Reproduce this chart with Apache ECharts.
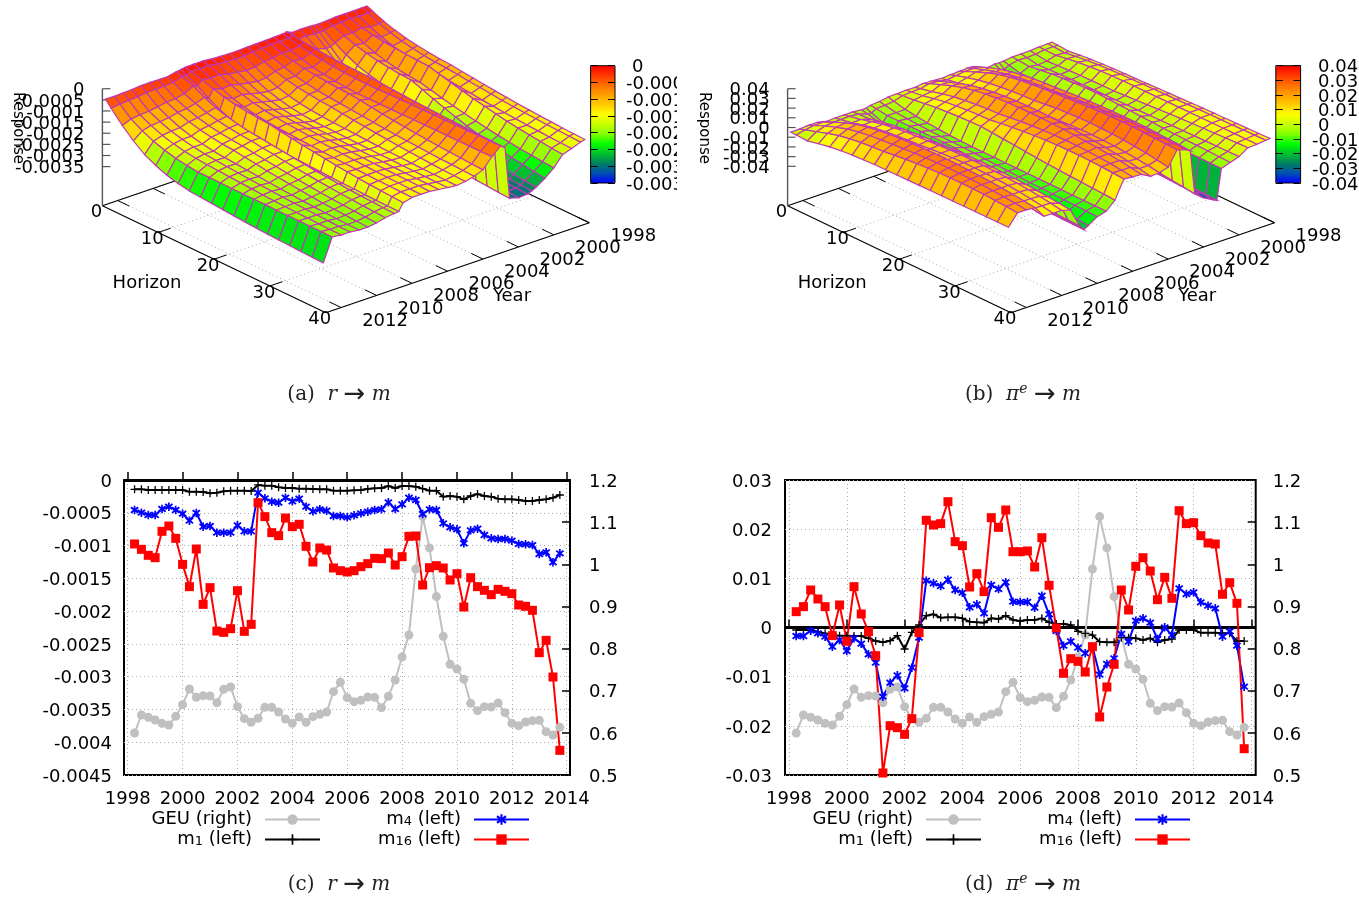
<!DOCTYPE html>
<html><head><meta charset="utf-8">
<style>html,body{margin:0;padding:0;background:#fff}#c{width:1359px;height:900px}</style>
<script src="https://cdn.jsdelivr.net/npm/echarts@6/dist/echarts.min.js"></script>
</head><body><div id="c"></div>
<script>
const quarters=[1998.25,1998.5,1998.75,1999,1999.25,1999.5,1999.75,2000,2000.25,2000.5,2000.75,2001,2001.25,2001.5,2001.75,2002,2002.25,2002.5,2002.75,2003,2003.25,2003.5,2003.75,2004,2004.25,2004.5,2004.75,2005,2005.25,2005.5,2005.75,2006,2006.25,2006.5,2006.75,2007,2007.25,2007.5,2007.75,2008,2008.25,2008.5,2008.75,2009,2009.25,2009.5,2009.75,2010,2010.25,2010.5,2010.75,2011,2011.25,2011.5,2011.75,2012,2012.25,2012.5,2012.75,2013,2013.25,2013.5,2013.75];
const xTicks=[1998,2000,2002,2004,2006,2008,2010,2012,2014];
const geu=[.5997,.6424,.6369,.6305,.6226,.6187,.6392,.6669,.7041,.6843,.6883,.6875,.6717,.7033,.7089,.6622,.6337,.625,.6345,.6606,.6606,.6495,.6329,.6226,.6377,.625,.6384,.644,.6495,.6978,.7199,.6835,.674,.6772,.6851,.6843,.6598,.6867,.7255,.78,.8323,.9889,1.1131,1.0388,.9233,.8291,.7627,.7516,.7271,.6701,.6527,.6622,.6614,.6709,.6479,.6226,.6171,.6258,.629,.6297,.6028,.5949,.6131];
const c_m1=[-.000142,-.000142,-.000153,-.000153,-.000153,-.000153,-.000153,-.000153,-.000178,-.000178,-.000183,-.000203,-.000193,-.000173,-.000163,-.000163,-.000163,-.000168,-.000076,-.000086,-.000086,-.000112,-.000122,-.000122,-.000132,-.000132,-.000137,-.000142,-.000142,-.000163,-.000163,-.000163,-.000158,-.000153,-.000137,-.000127,-.000122,-.000092,-.000122,-.000092,-.000092,-.000102,-.000132,-.000163,-.000163,-.000254,-.000244,-.000254,-.000295,-.000244,-.000214,-.000244,-.000254,-.000285,-.000295,-.000295,-.000305,-.00032,-.00032,-.000305,-.000295,-.00027,-.000229];
const c_m4=[-.000458,-.000498,-.000534,-.000534,-.000442,-.000407,-.000458,-.000514,-.00062,-.000503,-.000712,-.000702,-.000803,-.000803,-.000803,-.000692,-.000783,-.000783,-.000193,-.00028,-.000331,-.000346,-.00027,-.000325,-.000285,-.000407,-.000478,-.000447,-.000468,-.000549,-.000549,-.00057,-.000539,-.000509,-.000483,-.000458,-.000447,-.000341,-.000442,-.000371,-.00027,-.000305,-.000519,-.000447,-.000458,-.000661,-.000722,-.000753,-.000966,-.000768,-.000742,-.000839,-.00089,-.0009,-.0009,-.000925,-.000976,-.000981,-.000992,-.001129,-.001103,-.001256,-.001119];
const c_m16=[-.000976,-.001058,-.001149,-.001185,-.000783,-.000702,-.00089,-.001287,-.001627,-.001053,-.001897,-.001642,-.002304,-.002324,-.002268,-.001688,-.002309,-.002202,-.000346,-.000559,-.000803,-.000849,-.00058,-.000712,-.000676,-.001012,-.001251,-.001037,-.001068,-.001342,-.001383,-.001403,-.001383,-.001322,-.001276,-.001195,-.0012,-.001114,-.001297,-.00117,-.000859,-.000854,-.001602,-.001337,-.001307,-.001342,-.001525,-.001429,-.001937,-.00149,-.001627,-.001683,-.001749,-.001668,-.001698,-.001734,-.001907,-.001927,-.001988,-.002634,-.002446,-.003005,-.004124];
const d_m1=[-.00051,-.00051,-.00051,-.00085,-.00119,-.00153,-.00166,-.00166,-.00173,-.00173,-.0022,-.00275,-.00302,-.00268,-.00166,-.00437,-.00098,.00051,.00241,.00268,.002,.00207,.00207,.00186,.00119,.00105,.00098,.00186,.00173,.00241,.00153,.00132,.00153,.00153,.00186,.00105,.00071,.00071,.00051,-.00078,-.00119,-.00153,-.00288,-.00302,-.00302,-.00207,-.00207,-.0022,-.00254,-.0022,-.00302,-.00254,-.00234,-.00051,-.00051,-.00051,-.00105,-.00105,-.00105,-.00119,-.00119,-.00275,-.00275];
const d_m4=[-.00173,-.00173,-.00064,-.00119,-.00186,-.0039,-.00254,-.00478,-.0022,-.00329,-.00546,-.00715,-.01407,-.01122,-.00973,-.01237,-.00817,-.00207,.00953,.00898,.00844,.00973,.00763,.00709,.0041,.00471,.00288,.00864,.00783,.00919,.00525,.00519,.00519,.00403,.00647,.00268,-.00071,-.0037,-.00281,-.0041,-.00525,-.0039,-.00959,-.00742,-.00627,-.00132,-.00288,.00139,.00186,.00098,-.00234,.00003,-.00153,.00797,.00681,.00715,.00512,.00444,.0039,-.00186,-.00078,-.0037,-.01203];
const d_m16=[.00322,.00424,.00763,.0058,.00424,-.00166,.00458,-.00281,.00831,.00275,-.00085,-.00573,-.02959,-.01997,-.02037,-.02173,-.01854,-.00105,.0218,.02085,.02112,.02559,.01746,.01664,.00824,.01095,.00729,.02234,.02037,.0239,.01542,.01542,.01556,.01231,.01827,.00858,-.0001,-.00932,-.00634,-.00688,-.00905,-.0039,-.0182,-.0121,-.00749,.00763,.00356,.01244,.0142,.01149,.00566,.0102,.00593,.02376,.02112,.02132,.01868,.01719,.01698,.00675,.00912,.00492,-.02465];

const surfYears=[1998.25,1998.5,1999,1999.5,2000,2000.5,2001,2001.25,2001.5,2002,2002.5,2002.75,2003,2003.5,2004,2004.5,2005,2005.5,2006,2006.5,2007,2007.5,2008,2008.5,2008.75,2009,2009.5,2010,2010.5,2011,2011.5,2012,2012.5,2013];
const surfHorizons=[1,2,4,6,8,10,12,14,16,18,20,22,24,26,28,30,32,34,36,38,40];
// responses; panel (a) in units of 1e-5, panel (b) in units of 1e-4
const surfA=[
[-14,-25,-46,-62,-75,-83,-90,-95,-98,-104,-109,-114,-120,-124,-129,-132,-136,-138,-141,-143,-145],
[-14,-27,-50,-67,-81,-90,-98,-103,-106,-111,-117,-121,-126,-131,-135,-138,-141,-144,-146,-148,-150],
[-15,-28,-53,-73,-89,-100,-108,-114,-118,-124,-129,-134,-140,-144,-149,-152,-156,-158,-161,-163,-165],
[-15,-24,-41,-50,-57,-62,-66,-68,-70,-83,-96,-108,-120,-130,-140,-149,-156,-163,-168,-174,-178],
[-15,-28,-51,-74,-94,-107,-117,-124,-129,-141,-152,-163,-173,-183,-191,-199,-206,-212,-216,-221,-225],
[-18,-29,-50,-67,-80,-90,-97,-102,-105,-123,-142,-159,-175,-191,-204,-217,-227,-237,-244,-252,-258],
[-20,-38,-70,-98,-122,-138,-150,-158,-164,-179,-193,-206,-220,-232,-243,-252,-261,-268,-274,-280,-285],
[-19,-40,-80,-125,-163,-188,-208,-221,-230,-238,-246,-253,-260,-266,-272,-277,-282,-286,-289,-292,-295],
[-17,-39,-80,-126,-164,-189,-209,-223,-232,-240,-249,-257,-264,-271,-278,-283,-288,-292,-296,-299,-302],
[-16,-35,-69,-99,-124,-141,-154,-163,-169,-185,-202,-217,-232,-245,-257,-268,-278,-286,-293,-300,-305],
[-17,-38,-78,-121,-156,-180,-199,-211,-220,-229,-238,-246,-254,-261,-267,-273,-278,-283,-286,-290,-293],
[-8,-12,-19,-24,-28,-31,-33,-34,-35,-38,-41,-44,-47,-49,-51,-53,-55,-57,-58,-59,-60],
[-9,-16,-28,-36,-43,-48,-52,-54,-56,-55,-53,-52,-51,-50,-49,-48,-47,-47,-46,-45,-45],
[-11,-19,-35,-50,-63,-71,-78,-82,-85,-84,-84,-83,-83,-82,-82,-81,-81,-81,-80,-80,-80],
[-12,-19,-33,-44,-54,-60,-65,-69,-71,-77,-84,-90,-96,-101,-106,-110,-114,-117,-120,-123,-125],
[-13,-23,-41,-59,-74,-84,-92,-97,-101,-106,-110,-115,-119,-123,-126,-129,-132,-135,-136,-138,-140],
[-14,-25,-45,-63,-77,-87,-95,-100,-104,-110,-115,-120,-125,-130,-134,-138,-141,-144,-146,-148,-150],
[-16,-30,-55,-79,-98,-112,-122,-129,-134,-137,-139,-141,-144,-146,-148,-149,-151,-152,-153,-154,-155],
[-16,-30,-57,-82,-103,-117,-128,-135,-140,-141,-142,-144,-145,-146,-147,-147,-148,-149,-149,-150,-150],
[-15,-28,-51,-75,-96,-109,-120,-127,-132,-134,-135,-137,-138,-139,-140,-141,-142,-143,-144,-144,-145],
[-13,-25,-46,-68,-87,-99,-109,-116,-120,-122,-125,-127,-129,-131,-133,-135,-136,-137,-138,-139,-140],
[-9,-18,-34,-57,-76,-89,-99,-106,-111,-114,-118,-121,-124,-127,-130,-132,-134,-136,-137,-139,-140],
[-9,-19,-37,-61,-81,-95,-105,-112,-117,-120,-123,-125,-128,-130,-132,-134,-135,-137,-138,-139,-140],
[-10,-17,-31,-47,-61,-70,-77,-82,-85,-93,-101,-108,-115,-121,-127,-132,-137,-141,-144,-147,-150],
[-13,-27,-52,-84,-111,-130,-144,-154,-160,-163,-166,-168,-171,-173,-175,-177,-178,-180,-181,-182,-183],
[-16,-26,-45,-72,-94,-109,-121,-129,-134,-140,-146,-152,-157,-163,-167,-171,-175,-178,-180,-183,-185],
[-25,-39,-66,-86,-103,-115,-124,-130,-134,-141,-147,-154,-160,-165,-170,-175,-179,-182,-185,-188,-190],
[-25,-43,-75,-95,-112,-124,-133,-139,-143,-150,-157,-163,-169,-175,-180,-185,-189,-192,-195,-198,-200],
[-24,-43,-77,-99,-117,-129,-138,-145,-149,-156,-162,-169,-175,-180,-185,-190,-194,-197,-200,-203,-205],
[-24,-45,-84,-109,-130,-144,-155,-163,-168,-172,-177,-181,-185,-189,-192,-195,-198,-200,-202,-204,-205],
[-28,-50,-90,-113,-132,-145,-155,-162,-167,-171,-175,-179,-182,-185,-188,-191,-193,-195,-197,-199,-200],
[-30,-52,-93,-117,-137,-151,-161,-168,-173,-176,-179,-182,-185,-188,-191,-193,-195,-196,-198,-199,-200],
[-32,-55,-98,-127,-150,-166,-179,-187,-193,-193,-193,-194,-194,-194,-194,-195,-195,-195,-195,-195,-195],
[-31,-60,-113,-158,-196,-221,-241,-254,-263,-267,-271,-275,-279,-283,-286,-289,-291,-293,-295,-297,-298]];
const surfB=[
[-5,-9,-17,-2,10,18,25,29,32,37,41,46,50,55,59,62,65,68,71,74,77],
[-5,-9,-17,1,15,25,33,38,42,45,49,52,55,59,62,64,66,68,71,73,75],
[-8,-9,-12,9,27,38,48,54,58,59,59,60,61,62,62,63,63,64,64,64,65],
[-15,-23,-39,-32,-27,-23,-20,-18,-17,-9,-2,6,14,22,29,35,40,45,50,55,60],
[-17,-28,-48,-42,-37,-34,-31,-29,-28,-25,-22,-20,-17,-14,-11,-9,-7,-6,-4,-2,0],
[-17,-23,-33,-15,1,11,19,24,28,22,16,11,5,-1,-7,-11,-15,-18,-22,-26,-30],
[-28,-43,-72,-68,-64,-61,-59,-58,-57,-57,-58,-58,-58,-58,-59,-59,-59,-59,-60,-60,-60],
[-30,-69,-141,-188,-226,-253,-273,-287,-296,-304,-311,-319,-326,-334,-342,-347,-352,-357,-362,-367,-372],
[-27,-57,-112,-138,-160,-175,-187,-195,-200,-215,-230,-245,-260,-275,-290,-300,-311,-320,-331,-340,-350],
[-44,-72,-124,-152,-175,-191,-203,-211,-217,-225,-234,-242,-250,-259,-267,-273,-278,-283,-289,-294,-300],
[5,-4,-21,-18,-16,-14,-12,-12,-11,-33,-54,-76,-98,-120,-141,-156,-172,-185,-200,-213,-228],
[24,49,95,132,163,184,200,211,218,228,237,244,250,253,256,256,255,250,245,239,231],
[27,49,90,125,155,175,190,201,208,222,234,245,255,262,268,271,272,270,267,264,258],
[21,48,97,145,184,211,232,246,256,268,278,287,295,301,305,306,306,303,299,294,287],
[19,37,71,100,123,139,152,160,166,181,194,203,210,212,210,208,201,190,176,160,140],
[11,24,47,66,82,92,101,106,110,129,144,157,166,172,173,172,168,159,147,133,115],
[19,42,86,127,161,185,202,215,223,227,228,227,223,215,205,196,184,171,153,133,110],
[24,48,92,136,173,198,217,230,239,243,245,245,243,239,232,225,217,206,192,177,160],
[13,27,52,83,108,125,139,148,154,170,184,195,203,209,211,210,207,201,192,179,165],
[15,24,40,65,86,100,111,118,123,140,155,169,180,188,194,197,197,195,190,183,175],
[11,17,27,45,59,69,77,82,86,76,66,57,47,37,27,20,13,8,1,-5,-12],
[7,-8,-37,-54,-68,-77,-85,-90,-93,-93,-93,-94,-94,-94,-94,-94,-94,-95,-95,-95,-95],
[-8,-20,-41,-49,-56,-61,-65,-67,-69,-74,-79,-84,-89,-95,-100,-103,-107,-110,-113,-116,-120],
[-15,-23,-39,-39,-39,-39,-39,-39,-39,-53,-67,-81,-95,-110,-124,-133,-143,-152,-162,-170,-180],
[-29,-52,-96,-122,-143,-158,-169,-177,-182,-184,-187,-189,-192,-194,-196,-198,-200,-201,-203,-204,-206],
[-30,-45,-74,-88,-100,-108,-114,-118,-121,-124,-127,-130,-133,-136,-138,-140,-142,-144,-146,-148,-150],
[-21,-18,-13,14,36,51,63,71,76,84,91,95,98,97,94,91,85,77,67,55,40],
[-22,-9,14,47,75,93,108,117,124,134,141,146,147,146,142,137,129,119,105,89,70],
[-22,-11,10,42,68,86,99,109,115,129,139,147,152,153,149,145,137,126,111,93,72],
[-25,-16,0,31,56,73,87,96,102,117,129,138,144,146,144,141,134,123,109,92,72],
[-5,25,80,127,167,194,214,229,238,245,250,254,255,253,249,245,238,230,218,205,190],
[-5,22,72,114,150,174,192,205,213,224,232,239,244,246,245,243,239,232,224,213,200],
[-11,8,44,82,114,136,153,164,172,187,200,210,219,225,229,230,229,224,218,210,200],
[-12,-14,-19,7,29,44,55,63,68,70,71,73,74,76,77,78,79,80,81,82,83]];
const zTicksA=[0,-.0005,-.001,-.0015,-.002,-.0025,-.003,-.0035];
const zTicksB=[.04,.03,.02,.01,0,-.01,-.02,-.03,-.04];
const yearTicks3d=[1998,2000,2002,2004,2006,2008,2010,2012];
const horizonTicks3d=[0,10,20,30,40];
const palette=['#0000ff','#0050b0','#008060','#00c030','#00ff00','#80ff00','#c8ff00','#ffff00','#ffcc00','#ffa000','#ff7000','#ff3800','#ff0000'];

const FONT='"DejaVu Sans"';
const lm=echarts.number.linearMap;
const HMAX=40,TMIN=1998,TMAX=2012.86;
function projector(ox,zBase,zTop){
  return (h,t,z)=>{
    const X=ox+lm(h,[0,HMAX],[0,223.4])+lm(t,[TMAX,TMIN],[0,263.5]);
    const Y0=205.7+lm(h,[0,HMAX],[0,107])-lm(t,[TMAX,TMIN],[0,90]);
    return [X,Y0-lm(z,[zBase,zTop],[0,117])];
  };
}
const PA=projector(102.4,-.005254,0), PB=projector(787.6,-.0806,.04);
function cells(table,unit){
  const out=[];
  for(let i=0;i<surfYears.length-1;i++)for(let j=0;j<surfHorizons.length-1;j++){
    const a=table[i][j]*unit,b=table[i][j+1]*unit,c=table[i+1][j]*unit,d=table[i+1][j+1]*unit;
    out.push([surfHorizons[j],surfHorizons[j+1],surfYears[i],surfYears[i+1],a,b,c,d,(a+b+c+d)/4]);
  }
  const depth=r=>2.675*(r[0]+r[1])+6.06*(r[2]+r[3]);
  return out.sort((p,q)=>depth(p)-depth(q));
}
const surfaceRender=P=>(params,api)=>{
  const v=i=>api.value(i);
  return {type:'polygon',shape:{points:[P(v(0),v(2),v(4)),P(v(1),v(2),v(5)),P(v(1),v(3),v(7)),P(v(0),v(3),v(6))]},
    style:{fill:api.visual('color'),stroke:'#c038b0',lineWidth:1.2}};
};
const frameRender=(P,zTicks,zTop,ox,respX,barLabelX,barRange)=>()=>{
  const kids=[];
  const line=(a,b,col,w,dash)=>kids.push({type:'line',shape:{x1:a[0],y1:a[1],x2:b[0],y2:b[1]},style:{stroke:col,lineWidth:w,lineDash:dash||null}});
  const text=(s,x,y,o)=>kids.push(Object.assign({type:'text',x,y,style:{text:s,fill:'#000',font:'18px '+FONT,align:'center',verticalAlign:'middle'}},o||{}));
  const zb=P===PA?-.005254:-.0806;
  yearTicks3d.forEach(t=>{
    line(P(0,t,zb),P(HMAX,t,zb),'#aaa',1,[1,3]);
    line(P(HMAX,t,zb),P(HMAX-2.1,t,zb),'#000',1);
    line(P(0,t,zb),P(2.1,t,zb),'#000',1);
    const p=P(HMAX,t,zb);text(String(t),p[0]+44,p[1]+13.5);
  });
  horizonTicks3d.forEach(h=>{
    line(P(h,TMAX,zb),P(h,TMIN,zb),'#aaa',1,[1,3]);
    if(h>0&&h<HMAX)line(P(h,TMAX,zb),P(h,TMAX-.7,zb),'#000',1);
    const p=P(h,TMAX,zb);text(String(h),p[0]-6,p[1]+7);
  });
  line(P(0,TMAX,zb),P(HMAX,TMAX,zb),'#000',1.2);
  line(P(HMAX,TMAX,zb),P(HMAX,TMIN,zb),'#000',1.2);
  line(P(HMAX,TMIN,zb),P(0,TMIN,zb),'#000',1.2);
  line(P(0,TMIN,zb),P(0,TMAX,zb),'#000',1.2);
  const c=P(0,TMAX,zb),tp=P(0,TMAX,zTop);
  line(c,tp,'#555',1.4);
  zTicks.forEach(z=>{
    const p=P(0,TMAX,z);
    line(p,[p[0]+8,p[1]],'#555',1.2);
    text(String(z),p[0]-18,p[1]+2,{style:{text:String(z),fill:'#000',font:'18px '+FONT,align:'right',verticalAlign:'middle'}});
    const by=lm(z,barRange,[183,65.7]);
    text(String(z),barLabelX+(z<0?0:6),by+2,{style:{text:String(z),fill:'#000',font:'18px '+FONT,align:'left',verticalAlign:'middle'}});
  });
  text('Response',respX,128,{rotation:-Math.PI/2,style:{text:'Response',fill:'#000',font:'15px '+FONT,align:'center',verticalAlign:'middle'}});
  text('Horizon',ox+44.6,283);
  text('Year',ox+409.6,296);
  return {type:'group',children:kids};
};

const pair=(ys)=>quarters.map((q,i)=>[q,ys[i]]);
const plus='path://M4.2,0H5.8V4.2H10V5.8H5.8V10H4.2V5.8H0V4.2H4.2Z';
const star='path://M4,0H6V3L8.5,1L10,2.5L7,5L10,7.5L8.5,9L6,7V10H4V7L1.5,9L0,7.5L3,5L0,2.5L1.5,1L4,3Z';
const zeroLine={silent:true,symbol:'none',z:1,animation:false,label:{show:false},lineStyle:{color:'#000',width:3,type:'solid'},data:[{yAxis:0}]};
function lineSet(xi,yl,yr,m1,m4,m16){
  const base=(name,data,color,yi,extra)=>Object.assign({type:'line',name,data:pair(data),xAxisIndex:xi,yAxisIndex:yi,animation:false,silent:true,
    lineStyle:{color,width:2},itemStyle:{color},emphasis:{disabled:true},clip:false,showAllSymbol:true},extra);
  return [
    base('GEU (right)',geu,'#c0c0c0',yr,{symbol:'circle',symbolSize:9}),
    base('m1 (left)',m1,'#000',yl,{symbol:plus,symbolSize:8,markLine:zeroLine}),
    base('m4 (left)',m4,'#0000ff',yl,{symbol:star,symbolSize:8.5}),
    base('m16 (left)',m16,'#ff0000',yl,{symbol:'rect',symbolSize:9})
  ];
}
const labelBase={color:'#000',fontFamily:FONT,fontSize:18};
const gridLine={show:true,lineStyle:{color:'#aaa',type:[1,3],width:1}};
const shifted={t:{fontFamily:FONT,fontSize:18,color:'#000',padding:[4,0,0,0]}};
function xAx(gi,min,max){return {type:'value',gridIndex:gi,min,max,
  axisLine:{show:false},
  axisTick:{show:true,inside:true,length:8,customValues:xTicks,lineStyle:{color:'#000',width:1.5}},
  axisLabel:Object.assign({},labelBase,{margin:15,customValues:xTicks,formatter:v=>String(v)}),
  splitLine:Object.assign({customValues:xTicks},gridLine)};}
function yL(gi,min,max,interval,margin){return {type:'value',gridIndex:gi,position:'left',min,max,interval,
  axisLine:{show:false},axisTick:{show:false},
  axisLabel:Object.assign({},labelBase,{margin,rich:shifted,showMinLabel:true,showMaxLabel:true,formatter:v=>'{t|'+v+'}'}),splitLine:gridLine};}
function yR(gi,margin){return {type:'value',gridIndex:gi,position:'right',min:.5,max:1.2,interval:.1,
  axisLine:{show:false},axisTick:{show:true,inside:true,length:8,lineStyle:{color:'#000',width:1.5}},
  axisLabel:Object.assign({},labelBase,{margin,rich:shifted,formatter:v=>'{t|'+v+'}'}),splitLine:{show:false}};}
function barAxes(gi,ticksMin,ticksMax,interval){
  const tick={show:true,inside:true,length:7,lineStyle:{color:'#000',width:1}};
  return [
   {type:'value',gridIndex:gi,position:'left',min:ticksMin,max:ticksMax,interval,z:10,axisLine:{show:false},axisTick:tick,axisLabel:{show:false},splitLine:{show:false}},
   {type:'value',gridIndex:gi,position:'right',min:ticksMin,max:ticksMax,interval,z:10,axisLine:{show:false},axisTick:tick,axisLabel:{show:false},splitLine:{show:false}}
  ];
}
const hiddenX=gi=>({type:'value',gridIndex:gi,show:false,min:0,max:1});
function legend(right,top,names){return {right,top,orient:'vertical',align:'right',data:names,itemWidth:55,itemHeight:13,itemGap:2,padding:0,selectedMode:false,
  textStyle:{color:'#000',fontFamily:FONT,fontSize:18,lineHeight:18,rich:{sub:{fontFamily:FONT,fontSize:13,verticalAlign:'bottom',padding:[5,0,0,0]},g:{fontSize:8,lineHeight:8,width:8}}},
  formatter:n=>n.replace(/^m(\d+)/,'m{sub|$1}')+'{g| }'};}
const CAPF='"DejaVu Serif"';
const capRich={i:{fontFamily:CAPF,fontStyle:'italic',fontSize:20,color:'#222'},s:{fontFamily:CAPF,fontStyle:'italic',fontSize:14,color:'#222',verticalAlign:'top'},a:{fontFamily:FONT,fontSize:26,color:'#222'}};
function caption(text,left,top){return {text,left,top,textAlign:'center',padding:0,textStyle:{fontFamily:CAPF,fontWeight:'normal',fontSize:20,color:'#222',rich:capRich}};}

const option={
  backgroundColor:'#fff',animation:false,
  title:[caption('(a)  {i|r} {a|→} {i|m}',339,382),caption('(b)  {i|π}{s|e} {a|→} {i|m}',1023,382),caption('(c)  {i|r} {a|→} {i|m}',339,872),caption('(d)  {i|π}{s|e} {a|→} {i|m}',1023,872)],
  grid:[
    {left:124,top:480,width:446,height:295,show:true,borderColor:'#000',borderWidth:2,backgroundColor:'transparent'},
    {left:785,top:480,width:470.7,height:295,show:true,borderColor:'#000',borderWidth:2,backgroundColor:'transparent'},
    {left:590.6,top:65.7,width:24.4,height:117.3,show:true,z:10,borderColor:'#000',borderWidth:1,backgroundColor:'transparent'},
    {left:1275.8,top:65.7,width:24.8,height:117.3,show:true,z:10,borderColor:'#000',borderWidth:1,backgroundColor:'transparent'}
  ],
  xAxis:[xAx(0,1997.865,2014.12),xAx(1,1997.862,2014.149),hiddenX(2),hiddenX(3)],
  yAxis:[yL(0,-.0045,0,.0005,12),yR(0,19),yL(1,-.03,.03,.01,13),yR(1,17),...barAxes(2,-.0035,0,.0005),...barAxes(3,-.04,.04,.01)],
  legend:[legend(1038,810.5,['GEU (right)','m1 (left)']),legend(829,810.5,['m4 (left)','m16 (left)']),legend(377,810.5,['GEU (right)','m1 (left)']),legend(168,810.5,['m4 (left)','m16 (left)'])],
  visualMap:[
    {type:'continuous',seriesIndex:2,dimension:8,min:-.0035,max:0,left:590.6,top:65.7,itemWidth:24.4,itemHeight:117.3,padding:0,text:null,showLabel:false,calculable:false,hoverLink:false,inRange:{color:palette}},
    {type:'continuous',seriesIndex:3,dimension:8,min:-.04,max:.04,left:1275.8,top:65.7,itemWidth:24.8,itemHeight:117.3,padding:0,text:null,showLabel:false,calculable:false,hoverLink:false,inRange:{color:palette}}
  ],
  graphic:[{type:'rect',z:100,shape:{x:677,y:55,width:18,height:140},style:{fill:'#fff'}}],
  series:[
    {type:'custom',coordinateSystem:'none',silent:true,z:1,data:[0],renderItem:frameRender(PA,zTicksA,0,102.4,17.4,626,[-.0035,0]),animation:false},
    {type:'custom',coordinateSystem:'none',silent:true,z:1,data:[0],renderItem:frameRender(PB,zTicksB,.04,787.6,703.5,1312,[-.04,.04]),animation:false},
    {type:'custom',coordinateSystem:'none',silent:true,z:2,data:cells(surfA,1e-5),progressive:0,renderItem:surfaceRender(PA),animation:false},
    {type:'custom',coordinateSystem:'none',silent:true,z:2,data:cells(surfB,1e-4),progressive:0,renderItem:surfaceRender(PB),animation:false},
    ...lineSet(0,0,1,c_m1,c_m4,c_m16),
    ...lineSet(1,2,3,d_m1,d_m4,d_m16)
  ]
};
echarts.init(document.getElementById('c'),null,{renderer:'canvas'}).setOption(option);
</script></body></html>
